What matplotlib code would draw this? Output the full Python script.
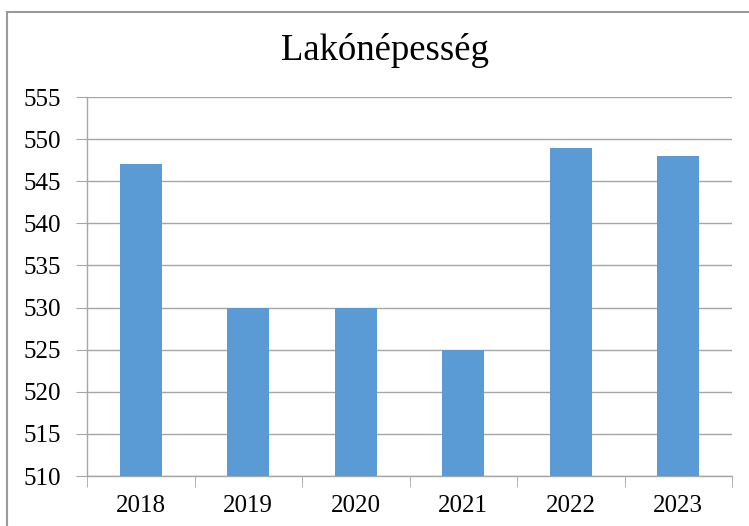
import matplotlib
matplotlib.use("Agg")
import matplotlib.pyplot as plt
from matplotlib.patches import Rectangle

plt.rcParams['font.family'] = ['Liberation Serif', 'DejaVu Serif']

years = ['2018', '2019', '2020', '2021', '2022', '2023']
population = [547, 530, 530, 525, 549, 548]
yticks = list(range(510, 556, 5))

W, H = 749, 526
fig = plt.figure(figsize=(W / 100, H / 100), dpi=100)

# outer chart frame (only top and left edges show in the reference)
fig.patches.append(Rectangle((7 / W, -0.1), 1.2, 1 - 12 / H + 0.1,
                             transform=fig.transFigure, fill=False,
                             edgecolor='#9a9a9a', linewidth=1.5))

ax = fig.add_axes([87 / W, 1 - 476 / H, (732 - 87) / W, (476 - 97) / H])
x = range(len(years))
ax.bar(x, [p - 510 for p in population], bottom=510, width=0.39,
       color='#5b9bd5', zorder=3)

ax.set_ylim(510, 555)
ax.set_xlim(-0.5, len(years) - 0.5)
ax.set_yticks(yticks)
ax.set_yticklabels([str(t) for t in yticks], fontsize=18)
ax.set_xticks(list(x))
ax.set_xticklabels(years, fontsize=18)
ax.set_xticks([i - 0.5 for i in range(len(years) + 1)], minor=True)

ax.grid(axis='y', color='#a6a6a6', linewidth=1, zorder=0)
for s in ['top', 'right']:
    ax.spines[s].set_visible(False)
for s in ['left', 'bottom']:
    ax.spines[s].set_color('#a6a6a6')
    ax.spines[s].set_linewidth(1)

ax.tick_params(axis='y', length=8, color='#a6a6a6', pad=11, labelcolor='black')
ax.tick_params(axis='x', which='major', length=0, pad=14)
ax.tick_params(axis='x', which='minor', length=8, color='#a6a6a6')

fig.text(385 / W, 1 - 50 / H, 'Lakónépesség', ha='center', va='center',
         fontsize=26.5)

fig.savefig('out.png', dpi=100)
